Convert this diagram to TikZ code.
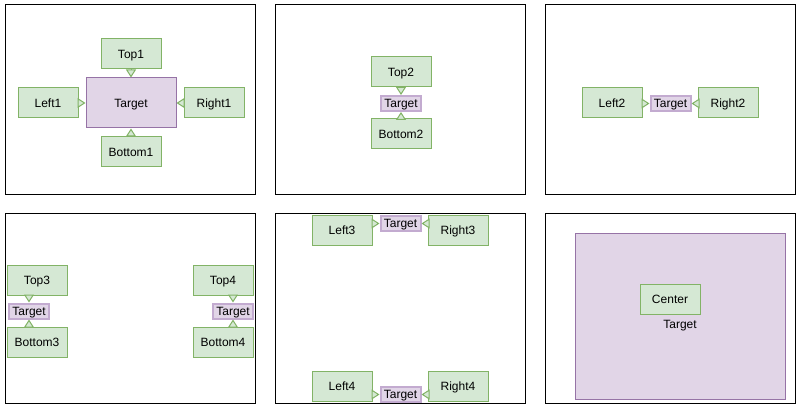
\documentclass[tikz,border=0pt]{standalone}
\usepackage{fontspec}
\setmainfont{Liberation Sans}
\usetikzlibrary{arrows.meta}
\definecolor{gfill}{HTML}{D5E8D4}
\definecolor{gline}{HTML}{82B366}
\definecolor{pfill}{HTML}{E1D5E7}
\definecolor{pline}{HTML}{9673A6}
\definecolor{plight}{HTML}{C3ABD0}
\tikzset{
  txt/.style={font=\fontsize{12}{14}\selectfont, text height=8.6pt, text depth=0pt},
  panel/.style={draw=black, line width=1pt},
  gbox/.style={txt, draw=gline, fill=gfill, line width=1pt, minimum width=60pt, minimum height=30pt, inner sep=0pt},
  pbig/.style={txt, draw=pline, fill=pfill, line width=1pt, inner sep=0pt},
  psmall/.style={txt, draw=plight, fill=pfill, line width=2pt, minimum width=40pt, minimum height=15pt, inner sep=0pt},
  plain/.style={txt, inner sep=0pt},
  arr/.style={draw=gline, line width=1pt, -{Triangle[length=8pt, width=10pt, fill=gfill]}},
}
\begin{document}
\begin{tikzpicture}[x=1pt, y=-1pt]
\useasboundingbox (0,0) rectangle (801,409);
\fill[white] (0,0) rectangle (801,409);
% panels
\draw[panel] (5,5) rectangle (255,195);
\draw[panel] (275,5) rectangle (525,195);
\draw[panel] (545,5) rectangle (795,195);
\draw[panel] (5,213) rectangle (255,403);
\draw[panel] (275,213) rectangle (525,403);
\draw[panel] (545,213) rectangle (795,403);
% panel 1
\node[pbig, minimum width=90pt, minimum height=50pt] (t1) at (131,103) {Target};
\node[gbox] (top1) at (131,54) {Top1};
\node[gbox] (left1) at (48,103) {Left1};
\node[gbox] (right1) at (214,103) {Right1};
\node[gbox] (bottom1) at (131,152) {Bottom1};
\draw[arr] (top1) -- (t1);
\draw[arr] (left1) -- (t1);
\draw[arr] (right1) -- (t1);
\draw[arr] (bottom1) -- (t1);
% panel 2
\node[psmall] (t2) at (401,103.5) {Target};
\node[gbox] (top2) at (401,72) {Top2};
\node[gbox] (bottom2) at (401,134) {Bottom2};
\draw[arr] (top2) -- (t2);
\draw[arr] (bottom2) -- (t2);
% panel 3
\node[psmall] (t3) at (670.5,103.5) {Target};
\node[gbox] (left2) at (612,103) {Left2};
\node[gbox] (right2) at (728,103) {Right2};
\draw[arr] (left2.east |- t3.west) -- (t3.west);
\draw[arr] (right2.west |- t3.east) -- (t3.east);
% panel 4
\node[gbox] (top3) at (37,280) {Top3};
\node[gbox] (bottom3) at (37,342) {Bottom3};
\node[psmall] (t4) at (29,311) {Target};
\draw[arr] (t4.north |- top3.south) -- (t4.north);
\draw[arr] (t4.south |- bottom3.north) -- (t4.south);
\node[gbox] (top4) at (223,280) {Top4};
\node[gbox] (bottom4) at (223,342) {Bottom4};
\node[psmall] (t5) at (233,311) {Target};
\draw[arr] (t5.north |- top4.south) -- (t5.north);
\draw[arr] (t5.south |- bottom4.north) -- (t5.south);
% panel 5
\node[gbox] (left3) at (342,230) {Left3};
\node[gbox] (right3) at (458,230) {Right3};
\node[psmall] (t6) at (400.5,223.5) {Target};
\draw[arr] (left3.east |- t6.west) -- (t6.west);
\draw[arr] (right3.west |- t6.east) -- (t6.east);
\node[gbox] (left4) at (342,386) {Left4};
\node[gbox] (right4) at (458,386) {Right4};
\node[psmall] (t7) at (400.5,394.5) {Target};
\draw[arr] (left4.east |- t7.west) -- (t7.west);
\draw[arr] (right4.west |- t7.east) -- (t7.east);
% panel 6
\node[pbig, minimum width=210pt, minimum height=166pt] (t8) at (680,316) {};
\node[plain] (t8label) at (680,324) {Target};
\node[gbox] (center) at (670,299) {Center};
\end{tikzpicture}
\end{document}
